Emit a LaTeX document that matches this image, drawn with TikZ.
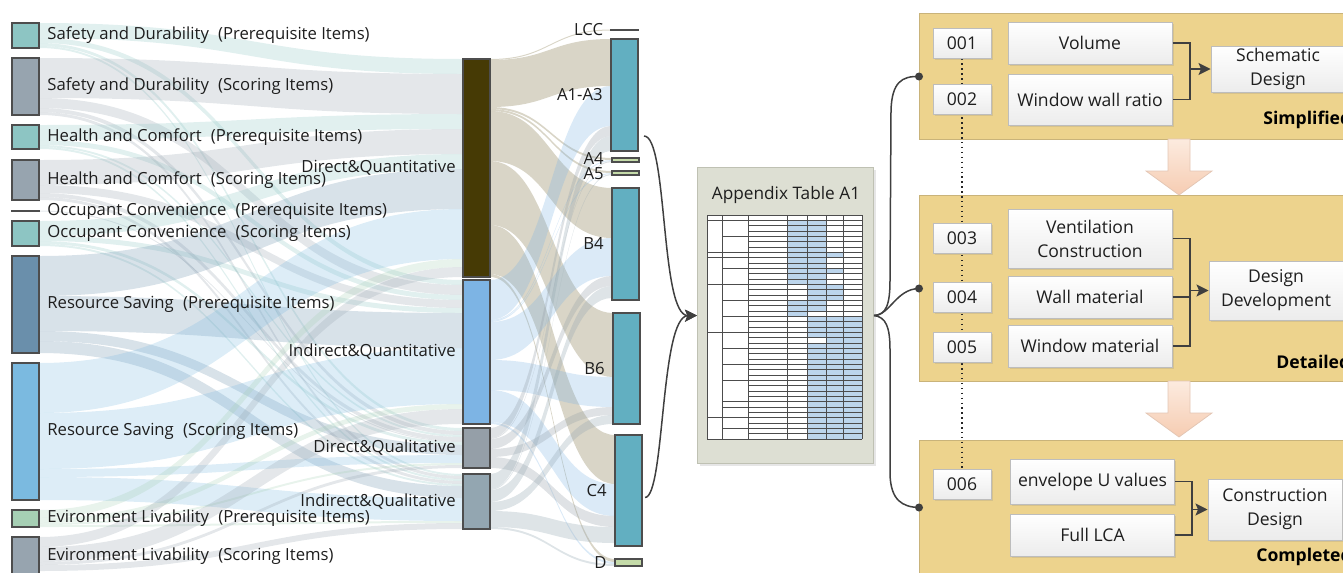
\documentclass[tikz,border=0pt]{standalone}
\usepackage{fontspec}
\setmainfont{Open Sans}
\usepackage{tikz}
\usetikzlibrary{arrows.meta,positioning,calc,shadows,backgrounds}
\pgfdeclarelayer{mid}
\pgfsetlayers{background,mid,main}
\definecolor{sdPre}{HTML}{8DC5C3}
\definecolor{sdSco}{HTML}{97A4AF}
\definecolor{rsPre}{HTML}{6A8FAB}
\definecolor{rsSco}{HTML}{7BBAE0}
\definecolor{elPre}{HTML}{A6CFB4}
\definecolor{dqBar}{HTML}{463A05}
\definecolor{iqBar}{HTML}{7DB4E4}
\definecolor{dlBar}{HTML}{959FA8}
\definecolor{ilBar}{HTML}{93A6B1}
\definecolor{stBar}{HTML}{62AFC1}
\definecolor{smBar}{HTML}{C5DBA9}
\definecolor{barEdge}{HTML}{4D4D4D}
\definecolor{beigeFl}{HTML}{CCC7B4}
\definecolor{txtDk}{HTML}{1E1E1E}
\definecolor{panelY}{HTML}{EDD38D}
\definecolor{panelEdge}{HTML}{C9B37A}
\definecolor{boxEdge}{HTML}{BDBDBD}
\definecolor{boxLow}{HTML}{ECECEC}
\definecolor{tblFill}{HTML}{DDDFD3}
\definecolor{tblEdge}{HTML}{BFC1B3}
\definecolor{cellBlue}{HTML}{BCD5EC}
\definecolor{peachLt}{HTML}{FCEBDF}
\definecolor{peach}{HTML}{F6CCB2}
\definecolor{peachEdge}{HTML}{E3C6B4}
\definecolor{lineDk}{HTML}{3F3F3F}
\newcommand{\skfont}{\fontsize{9.5}{11}\selectfont}
\newcommand{\bxfont}{\fontsize{10}{13.6}\selectfont}
\newcommand{\gap}{\hspace{0.55em}}
\tikzset{
  bar/.style    = {draw=barEdge, line width=0.25mm, inner sep=0pt, outer sep=0pt,
                   minimum width=5.4mm},
  sklab/.style  = {font=\skfont, text=txtDk, inner sep=0pt},
  band/.style   = {fill=#1},
  idbox/.style  = {draw=boxEdge, line width=0.2mm, top color=white, bottom color=boxLow,
                   drop shadow={shadow xshift=0.35mm, shadow yshift=-0.35mm, opacity=0.2},
                   minimum width=11.6mm, minimum height=6mm, inner sep=0pt,
                   font=\bxfont, text=txtDk, align=center},
  itbox/.style  = {idbox, minimum width=32.8mm},
  resbox/.style = {idbox, minimum width=26.8mm},
  pnl/.style    = {fill=panelY, draw=panelEdge, line width=0.2mm, anchor=north west,
                   minimum width=90mm, inner sep=0pt},
  tagl/.style   = {font=\bxfont\bfseries, text=black, anchor=west, inner sep=0pt},
  tblbox/.style = {fill=tblFill, draw=tblEdge, line width=0.2mm, anchor=north west,
                   drop shadow={shadow xshift=0.5mm, shadow yshift=-0.5mm, opacity=0.2}},
  ttl/.style    = {font=\fontsize{9.8}{11}\selectfont, text=txtDk, inner sep=0pt},
  tline/.style  = {draw=black!70, line width=0.07mm},
  elb/.style    = {draw=lineDk, line width=0.3mm},
  arr/.style    = {-{Stealth[length=2.4mm, width=2.4mm, inset=0.5mm]}, draw=lineDk,
                   line width=0.3mm},
  crv/.style    = {draw=lineDk, line width=0.3mm},
  dotl/.style   = {draw=black!85, line width=0.28mm, dotted},
}
\newcommand{\sbar}[5]{%                 % #1 = name, #2 = colour, #3 = x, #4 = top, #5 = bottom
  \node[bar, fill=#2, minimum height={(#5-#4)*0.2mm}, anchor=north west] (#1) at (#3,#4) {};}
\newcommand{\flw}[5]{%                  % #1 = colour, #2 = opacity, #3 = from, #4 = to, #5 = width
  \pgfmathsetmacro{\fA}{\csname skO#3\endcsname}%
  \pgfmathsetmacro{\fB}{\fA+#5}%
  \pgfmathsetmacro{\tA}{\csname skI#4\endcsname}%
  \pgfmathsetmacro{\tB}{\tA+#5}%
  \expandafter\xdef\csname skO#3\endcsname{\fB}%
  \expandafter\xdef\csname skI#4\endcsname{\tB}%
  \fill[band=#1, fill opacity=#2] let \p1=(#3.north east), \p2=(#4.north west),
      \n1={(\x1+\x2)/2} in
    (\x1,{\y1-\fA*0.2mm}) .. controls ({\n1*1pt},{\y1-\fA*0.2mm}) and ({\n1*1pt},{\y2-\tA*0.2mm}) .. (\x2,{\y2-\tA*0.2mm})
    -- (\x2,{\y2-\tB*0.2mm}) .. controls ({\n1*1pt},{\y2-\tB*0.2mm}) and ({\n1*1pt},{\y1-\fB*0.2mm}) .. (\x1,{\y1-\fB*0.2mm})
    -- cycle;}
\newcommand{\tcell}[3]{%                % #1 = left x, #2 = right x, #3 = row
  \fill[cellBlue] (#1,{215+(#3-1)*5.333}) rectangle (#2,{215+#3*5.333});}
\newcommand{\dnarrow}[3]{%              % #1 = centre x, #2 = top, #3 = tip
  \shadedraw[top color=peachLt, bottom color=peach, draw=peachEdge, line width=0.15mm]
    ({#1-11},#2) -- ({#1+11},#2) -- ({#1+11},{#3-24}) -- ({#1+33},{#3-24}) -- (#1,#3)
    -- ({#1-33},{#3-24}) -- ({#1-11},{#3-24}) -- cycle;}

\begin{document}
\begin{tikzpicture}[x=0.2mm, y=-0.2mm]
  \useasboundingbox (0,0) rectangle (1343,572);
  \clip (0,0) rectangle (1343,572);

  % sankey columns
  \sbar{sdp}{sdPre}{12}{23}{48}
  \sbar{sds}{sdSco}{12}{58}{115}
  \sbar{hcp}{sdPre}{12}{125}{149}
  \sbar{hcs}{sdSco}{12}{160}{200}
  \sbar{ocp}{sdSco}{12}{210.5}{211.5}
  \sbar{ocs}{sdPre}{12}{221}{246}
  \sbar{rsp}{rsPre}{12}{256}{353}
  \sbar{rss}{rsSco}{12}{363}{500}
  \sbar{elp}{elPre}{12}{510}{527}
  \sbar{els}{sdSco}{12}{537}{575}
  \sbar{dq}{dqBar}{463}{59}{277}
  \sbar{iq}{iqBar}{463}{280}{424}
  \sbar{dl}{dlBar}{463}{428}{468}
  \sbar{il}{ilBar}{463}{474}{529}
  \sbar{lcc}{sdSco}{611}{29.5}{30.5}
  \sbar{a13}{stBar}{611}{39}{151}
  \sbar{a4}{smBar}{612}{158}{162}
  \sbar{a5}{smBar}{612}{171}{175}
  \sbar{b4}{stBar}{612}{188}{300}
  \sbar{b6}{stBar}{613}{313}{424}
  \sbar{c4}{stBar}{615}{435}{546}
  \sbar{d}{smBar}{615}{559}{566}

  \node[sklab, right=1.6mm of sdp] (tsdp) {Safety and Durability\gap(Prerequisite Items)};
  \node[sklab, right=1.6mm of sds] (tsds) {Safety and Durability\gap(Scoring Items)};
  \node[sklab, right=1.6mm of hcp] (thcp) {Health and Comfort\gap(Prerequisite Items)};
  \node[sklab, right=1.6mm of hcs] (thcs) {Health and Comfort\gap(Scoring Items)};
  \node[sklab, right=1.6mm of ocp] (tocp) {Occupant Convenience\gap(Prerequisite Items)};
  \node[sklab, right=1.6mm of ocs] (tocs) {Occupant Convenience\gap(Scoring Items)};
  \node[sklab, right=1.6mm of rsp] (trsp) {Resource Saving\gap(Prerequisite Items)};
  \node[sklab, right=1.6mm of rss] (trss) {Resource Saving\gap(Scoring Items)};
  \node[sklab, right=1.6mm of elp] (telp) {Evironment Livability\gap(Prerequisite Items)};
  \node[sklab, right=1.6mm of els] (tels) {Evironment Livability\gap(Scoring Items)};
  \node[sklab, left=1.4mm of dq] (tdq) {Direct\&Quantitative};
  \node[sklab, left=1.4mm of iq] (tiq) {Indirect\&Quantitative};
  \node[sklab, left=1.4mm of dl] (tdl) {Direct\&Qualitative};
  \node[sklab, left=1.4mm of il] (til) {Indirect\&Qualitative};
  \node[sklab, left=1.5mm of lcc] (tlcc) {LCC};
  \node[sklab, left=1.6mm of a13] (ta13) {A1-A3};
  \node[sklab, left=1.6mm of a4, yshift=0.2mm] (ta4) {A4};
  \node[sklab, left=1.6mm of a5, yshift=-0.2mm] (ta5) {A5};
  \node[sklab, left=1.6mm of b4] (tb4) {B4};
  \node[sklab, left=1.6mm of b6] (tb6) {B6};
  \node[sklab, left=1.6mm of c4] (tc4) {C4};
  \node[sklab, left=1.6mm of d] (td) {D};

  % flows
  \foreach \n in {sdp,sds,hcp,hcs,ocp,ocs,rsp,rss,elp,els,dq,iq,dl,il,lcc,a13,a4,a5,b4,b6,c4,d}
    {\expandafter\xdef\csname skO\n\endcsname{0}\expandafter\xdef\csname skI\n\endcsname{0}}
  \begin{pgfonlayer}{background}
    \foreach \s/\t/\w/\c in {sdp/dq/15/sdPre, sdp/iq/5/sdPre, sdp/dl/3/sdPre, sdp/il/2/sdPre,
        sds/dq/40/sdSco, sds/iq/10/sdSco, sds/dl/4/sdSco, sds/il/3/sdSco,
        hcp/dq/15/sdPre, hcp/iq/5/sdPre, hcp/dl/2/sdPre, hcp/il/2/sdPre,
        hcs/dq/25/sdSco, hcs/iq/8/sdSco, hcs/dl/4/sdSco, hcs/il/3/sdSco,
        ocp/dl/1/sdSco,
        ocs/dq/15/sdPre, ocs/iq/5/sdPre, ocs/dl/3/sdPre, ocs/il/2/sdPre,
        rsp/dq/40/rsPre, rsp/iq/35/rsPre, rsp/dl/10/rsPre, rsp/il/12/rsPre,
        rss/dq/50/rsSco, rss/iq/56/rsSco, rss/dl/8/rsSco, rss/il/23/rsSco,
        elp/dq/8/elPre, elp/iq/5/elPre, elp/dl/2/elPre, elp/il/2/elPre,
        els/dq/10/sdSco, els/iq/15/sdSco, els/dl/3/sdSco, els/il/6/sdSco}
      {\flw{\c}{0.26}{\s}{\t}{\w}}
    \foreach \t/\w in {lcc/1, a13/47, a4/2, a5/2, b4/50, b6/64, c4/49, d/3}
      {\flw{beigeFl}{0.75}{dq}{\t}{\w}}
    \foreach \t/\w in {a13/40, a4/1, a5/1, b4/38, b6/30, c4/32, d/2}
      {\flw{iqBar}{0.28}{iq}{\t}{\w}}
    \foreach \t/\w in {a13/10, a4/1, b4/10, b6/8, c4/11}
      {\flw{dlBar}{0.3}{dl}{\t}{\w}}
    \foreach \t/\w in {a13/15, a5/1, b4/12, b6/9, c4/16, d/2}
      {\flw{ilBar}{0.3}{il}{\t}{\w}}
  \end{pgfonlayer}

  % appendix table
  \node[tblbox, minimum width=35.2mm, minimum height=59.2mm] (tbl) at (697,167) {};
  \node[ttl] (ttl) at (786,195) {Appendix Table A1};
  \fill[white] (707,215) rectangle (862,439);
  \foreach \r in {2,...,13} {\tcell{787}{807}{\r}}
  \foreach \r in {17,18,19} {\tcell{787}{807}{\r}}
  \foreach \r in {2,...,18} {\tcell{807}{826}{\r}}
  \foreach \r in {20,...,23} {\tcell{807}{826}{\r}}
  \foreach \r in {25,...,42} {\tcell{807}{826}{\r}}
  \foreach \r in {8,11,14,15,16} {\tcell{826}{843}{\r}}
  \foreach \r in {20,...,42} {\tcell{826}{843}{\r}}
  \foreach \r in {20,...,42} {\tcell{843}{862}{\r}}
  \foreach \r in {0,...,42} {\draw[tline] (748,{215+\r*5.333}) -- (862,{215+\r*5.333});}
  \foreach \r in {0,1,7,8,13,22,38,42} {\draw[tline] (707,{215+\r*5.333}) -- (748,{215+\r*5.333});}
  \foreach \r in {4,10,16,19,25,28,31,35,36,40} {\draw[tline] (722,{215+\r*5.333}) -- (748,{215+\r*5.333});}
  \foreach \c in {707,722,748,787,807,826,843,862} {\draw[tline] (\c,215) -- (\c,439);}

  \draw[arr] ($(a13.south east)+(6,-15)$) .. controls (668,136) and (660,316) .. (tbl.west);
  \draw[arr] ($(c4.east)+(3,7)$) .. controls (665,497) and (660,316) .. (tbl.west);

  % design stages
  \begin{pgfonlayer}{background}
    \node[pnl, minimum height=25.2mm] (pan1) at (919,13) {};
    \node[pnl, minimum height=37.2mm] (pan2) at (919,195) {};
    \node[pnl, minimum height=26.8mm] (pan3) at (919,440) {};
  \end{pgfonlayer}
  \dnarrow{1179}{139}{195}
  \dnarrow{1179}{381}{437}

  \node[idbox] (n001) at (962,43) {001};
  \node[idbox] (n002) at (962,99) {002};
  \node[itbox, minimum height=8.4mm] (vol) at (1090,43) {Volume};
  \node[itbox, minimum height=10.2mm] (wwr) at (1090,99.5) {Window wall ratio};
  \node[resbox, minimum height=9.2mm] (sch) at (1278,69) {Schematic\\Design};
  \node[tagl] (tg1) at (1263,120) {Simplified};

  \node[idbox] (n003) at (962,238) {003};
  \node[idbox] (n004) at (962,297) {004};
  \node[idbox] (n005) at (962,347) {005};
  \node[itbox, minimum height=11.8mm] (ven) at (1090,238.5) {Ventilation\\Construction};
  \node[itbox, minimum height=8.4mm] (wal) at (1090,297) {Wall material};
  \node[itbox, minimum height=8.4mm] (win) at (1090,346) {Window material};
  \node[resbox, minimum height=11.8mm] (dev) at (1276,290.5) {Design\\Development};
  \node[tagl] (tg2) at (1276,362) {Detailed};

  \node[idbox] (n006) at (962,484) {006};
  \node[itbox, minimum height=9mm] (env) at (1092.5,481.5) {envelope U values};
  \node[itbox, minimum height=8.4mm] (lca) at (1092.5,535) {Full LCA};
  \node[resbox, minimum height=12.2mm] (cons) at (1275,509.5) {Construction\\Design};
  \node[tagl] (tg3) at (1256,557) {Completed};

  \begin{pgfonlayer}{mid}
    \draw[dotl] (n001.south) -- (n006.north);
  \end{pgfonlayer}

  \coordinate (j1) at (1190,69);
  \coordinate (j2) at (1190,290.5);
  \coordinate (j3) at (1192,509.5);
  \draw[elb] (vol.east) -| (j1) |- (wwr.east);
  \draw[arr] (j1) -- (sch.west);
  \draw[elb] (ven.east) -| (j2) |- (win.east);
  \draw[elb] (wal.east) -- (wal.east -| j2);
  \draw[arr] (j2) -- (dev.west);
  \draw[elb] (env.east) -| (j3) |- (lca.east);
  \draw[arr] (j3) -- (cons.west);

  % brace to the stages
  \draw[crv] (tbl.east) .. controls (886,315) and (890,305) .. (890,280) -- (891,110)
    .. controls (892,82) and (902,76) .. (pan1.west);
  \draw[crv] (tbl.east) .. controls (890,315) and (896,289) .. (pan2.west);
  \draw[crv] (tbl.east) .. controls (886,317) and (890,327) .. (890,350) -- (890,475)
    .. controls (891,500) and (902,507) .. (pan3.west);
  \fill[lineDk] (pan1.west) circle (0.8mm);
  \fill[lineDk] (pan2.west) circle (0.8mm);
  \fill[lineDk] (pan3.west) circle (0.8mm);
\end{tikzpicture}
\end{document}
